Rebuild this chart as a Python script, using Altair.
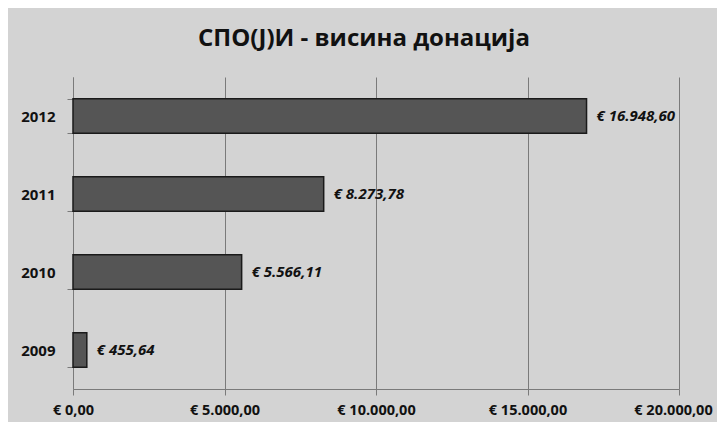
import altair as alt
import pandas as pd

years = ["2009", "2010", "2011", "2012"]
amounts = [455.64, 5566.11, 8273.78, 16948.60]
bar_labels = ["€ 455,64", "€ 5.566,11", "€ 8.273,78", "€ 16.948,60"]
tick_values = [0, 5000, 10000, 15000, 20000]
tick_labels = ["€ 0,00", "€ 5.000,00", "€ 10.000,00", "€ 15.000,00", "€ 20.000,00"]

df = pd.DataFrame({"year": years, "amount": amounts, "label": bar_labels})

label_expr = "[" + ",".join("'" + t + "'" for t in tick_labels) + "][round(datum.value/5000)]"

FONT = "Open Sans"

x_enc = alt.X(
    "amount:Q",
    scale=alt.Scale(domain=[0, 20000], nice=False),
    axis=alt.Axis(
        values=tick_values,
        labelExpr=label_expr,
        title=None,
        grid=True,
        gridColor="#7a7a7a",
        gridWidth=1,
        domainColor="#7a7a7a",
        tickColor="#7a7a7a",
        tickSize=6,
        labelFont=FONT,
        labelFontSize=14.5,
        labelFontWeight="bold",
        labelColor="#111111",
        labelPadding=8,
        labelFlush=False,
        labelOverlap=False,
        labelOffset={"condition": {"test": "datum.value >= 20000", "value": -6}, "value": 0},
    ),
)
y_enc = alt.Y(
    "year:N",
    sort="descending",
    scale=alt.Scale(paddingInner=0.56, paddingOuter=0.28),
    axis=alt.Axis(
        title=None,
        grid=False,
        tickBand="extent",
        domainColor="#7a7a7a",
        tickColor="#7a7a7a",
        tickSize=6,
        labelFont=FONT,
        labelFontSize=15,
        labelFontWeight="bold",
        labelColor="#111111",
        labelPadding=12,
    ),
)

base = alt.Chart(df)
bars = base.mark_bar(fill="#555555", stroke="#1a1a1a", strokeWidth=1.5).encode(x=x_enc, y=y_enc)
texts = base.mark_text(
    align="left", baseline="middle", dx=10, font=FONT, fontSize=15,
    fontStyle="italic", fontWeight="bold", color="#111111"
).encode(x="amount:Q", y=alt.Y("year:N", sort="descending"), text="label:N")

chart = (
    (bars + texts)
    .properties(
        width=606,
        height=312,
        autosize=alt.AutoSizeParams(type="none"),
        padding={"left": 65, "top": 69, "right": 38, "bottom": 33},
        background="#d3d3d3",
        title=alt.TitleParams(
            "СПО(Ј)И - висина донација",
            font=FONT, fontSize=24, fontWeight="bold", color="#111111",
            anchor="middle", baseline="alphabetic", offset=0, dx=-12,
        ),
    )
    .configure_view(stroke=None)
)

chart.save("out.html", embed_options={"renderer": "svg", "actions": False})
